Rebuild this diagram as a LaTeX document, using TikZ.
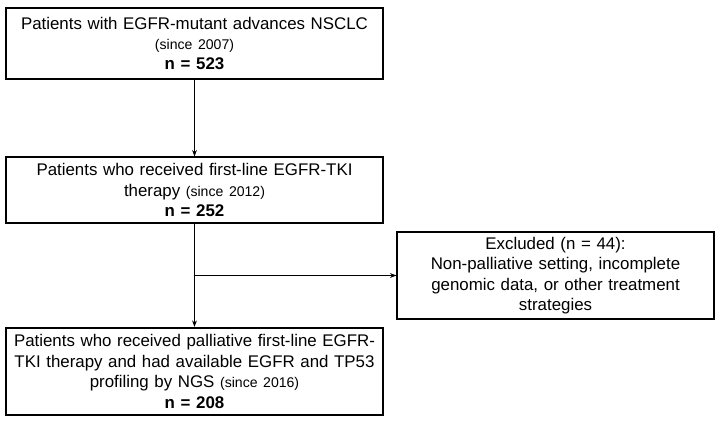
\documentclass[tikz,border=0pt]{standalone}
\usepackage{fontspec}
\setmainfont{Liberation Sans}
\usepackage{tikz}
\usetikzlibrary{arrows.meta, calc}
\newcommand{\sincetxt}[1]{{\fontsize{10}{11}\selectfont #1}}

\begin{document}
\begin{tikzpicture}[
  >={Stealth[length=1.6mm, width=1.2mm]}, line width=0.8pt,
  box/.style={draw, align=center, text width=9.2cm, minimum width=9.425cm,
    inner sep=2pt, font=\fontsize{12}{14.5}\selectfont}]
  \useasboundingbox (0,0) rectangle (18.05,10.6);

  % flujo principal
  \node[box, minimum height=1.775cm] (all) at (4.8625,9.5125)
    {Patients with EGFR-mutant advances NSCLC\\
     \sincetxt{(since 2007)}\\ \textbf{n = 523}};
  \node[box, minimum height=1.65cm] (first) at (4.8625,5.85)
    {Patients who received first-line EGFR-TKI\\
     therapy \sincetxt{(since 2012)}\\ \textbf{n = 252}};
  \node[box, minimum height=2.175cm, line width=1.6pt] (ngs) at (4.8625,1.3125)
    {Patients who received palliative first-line EGFR-\\
     TKI therapy and had available EGFR and TP53\\
     profiling by NGS \sincetxt{(since 2016)}\\ \textbf{n = 208}};

  % excluidos
  \node[box, text width=7.7cm, minimum width=7.925cm, minimum height=2.175cm]
    (excl) at (13.8875,3.7125)
    {Excluded (n = 44):\\ Non-palliative setting, incomplete\\
     genomic data, or other treatment\\ strategies};
  \coordinate (br) at ($(first.south)!0.5!(ngs.north)$);

  \draw[->] (all) -- (first);
  \draw[->] (first) -- (ngs);
  \draw[->] (br |- excl.west) -- (excl.west);
\end{tikzpicture}
\end{document}
